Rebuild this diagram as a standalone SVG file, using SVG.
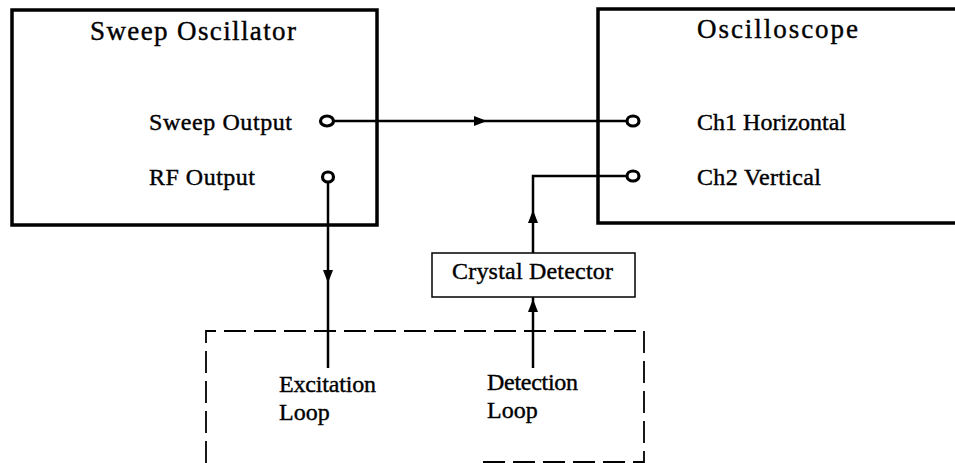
<svg xmlns="http://www.w3.org/2000/svg" width="955" height="463" viewBox="0 0 955 463">
<style>
text{font-family:"Liberation Serif","Times New Roman",serif;fill:#000;stroke:#000;stroke-width:0.4}
.title{font-size:27px}
.lbl{font-size:24px}
.box{fill:none;stroke:#000;stroke-width:3.5}
.thin{fill:#fff;stroke:#000;stroke-width:1.5}
.port{fill:#fff;stroke:#000;stroke-width:3.2}
.wire{fill:none;stroke:#000;stroke-width:2.5}
.dash{fill:none;stroke:#000;stroke-width:1.8;stroke-dasharray:22 8}
.arr{fill:#000}
</style>
<rect width="955" height="463" fill="#fff"/>
<g id="loop-region">
<path class="dash" d="M206,463 V331 H644 V462 H478"/>
</g>
<g id="connectors">
<line class="wire" x1="333" y1="121" x2="627" y2="121"/>
<polygon class="arr" points="487,121 474,116 474,126"/>
<line class="wire" x1="328" y1="182" x2="328" y2="368"/>
<polygon class="arr" points="328,283 323,270 333,270"/>
<path class="wire" d="M627,176 H533 V253"/>
<polygon class="arr" points="533,210 528,223 538,223"/>
<line class="wire" x1="533" y1="297" x2="533" y2="368"/>
<polygon class="arr" points="533,299 528,312 538,312"/>
</g>
<g id="sweep-oscillator">
<rect class="box" x="12" y="10" width="365" height="215"/>
<text class="title" x="90" y="40" textLength="206" lengthAdjust="spacing">Sweep Oscillator</text>
<text class="lbl" x="149" y="130" textLength="143" lengthAdjust="spacing">Sweep Output</text>
<text class="lbl" x="149" y="185" textLength="106" lengthAdjust="spacing">RF Output</text>
<ellipse class="port" cx="327" cy="121" rx="6.5" ry="5"/>
<ellipse class="port" cx="328" cy="177" rx="5.5" ry="5"/>
</g>
<g id="oscilloscope">
<rect class="box" x="598" y="9" width="380" height="214"/>
<text class="title" x="697" y="38" textLength="161" lengthAdjust="spacing">Oscilloscope</text>
<text class="lbl" x="697" y="130" textLength="149" lengthAdjust="spacing">Ch1 Horizontal</text>
<text class="lbl" x="697" y="185" textLength="124" lengthAdjust="spacing">Ch2 Vertical</text>
<ellipse class="port" cx="633" cy="121" rx="6" ry="5"/>
<ellipse class="port" cx="633" cy="176" rx="6" ry="5"/>
</g>
<g id="crystal-detector">
<rect class="thin" x="432" y="253" width="203" height="44"/>
<text class="lbl" x="452" y="279" textLength="161" lengthAdjust="spacing">Crystal Detector</text>
</g>
<g id="excitation-loop">
<text class="lbl" x="279" y="392" textLength="97" lengthAdjust="spacing">Excitation</text>
<text class="lbl" x="279" y="420">Loop</text>
</g>
<g id="detection-loop">
<text class="lbl" x="487" y="390" textLength="91" lengthAdjust="spacing">Detection</text>
<text class="lbl" x="487" y="418">Loop</text>
</g>
</svg>
